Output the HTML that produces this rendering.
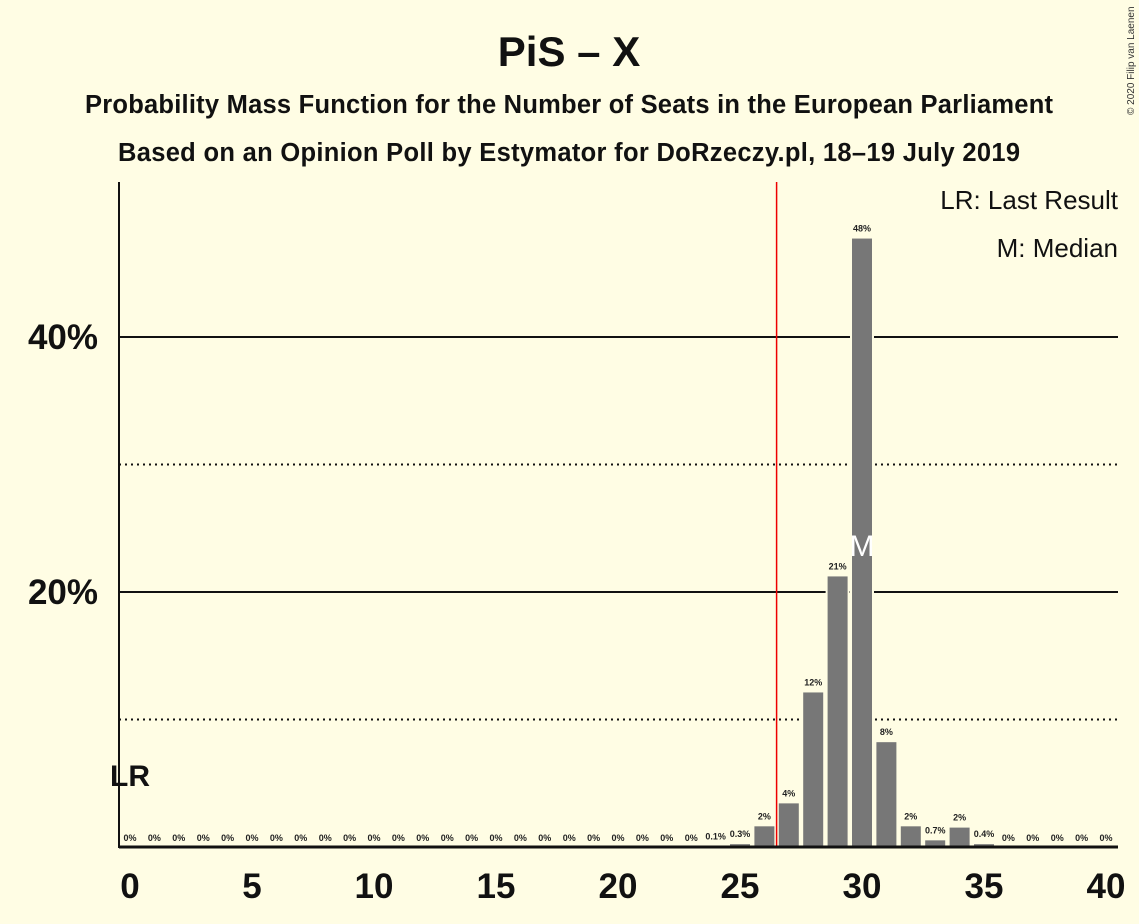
<!DOCTYPE html>
<html><head><meta charset="utf-8"><style>
body{margin:0;background:#fffde4;}
svg{display:block;font-family:"Liberation Sans",sans-serif;}
</style></head><body>
<svg id="chart" width="1139" height="924">
<rect width="1139" height="924" fill="#fffde4"/>
<text x="569" y="66" text-anchor="middle" font-size="42" font-weight="bold" fill="#111">PiS – X</text>
<text x="569" y="113" text-anchor="middle" font-size="25.5" font-weight="bold" fill="#111" textLength="968">Probability Mass Function for the Number of Seats in the European Parliament</text>
<text x="569" y="161" text-anchor="middle" font-size="25.5" font-weight="bold" fill="#111" textLength="902">Based on an Opinion Poll by Estymator for DoRzeczy.pl, 18–19 July 2019</text>
<text x="1134" y="115" font-size="10" fill="#333" transform="rotate(-90 1134 115)">© 2020 Filip van Laenen</text>
<text x="1118" y="209" text-anchor="end" font-size="26" fill="#111">LR: Last Result</text>
<text x="1118" y="257" text-anchor="end" font-size="26" fill="#111">M: Median</text>
<g id="grid"></g>
<g id="bars"></g>
<g id="labels"></g>
<line x1="119" y1="182" x2="119" y2="848" stroke="#111" stroke-width="2"/>
<line x1="119" y1="847" x2="1118" y2="847" stroke="#111" stroke-width="3"/>
<g id="ticks"></g>
</svg>
<script>
const seats = [];
for (let i = 0; i <= 40; i++) seats.push(i);
const probs = [0,0,0,0,0,0,0,0,0,0,0,0,0,0,0,0,0,0,0,0,0,0,0,0,0.1,0.3,1.7,3.5,12.2,21.3,47.8,8.3,1.7,0.6,1.6,0.3,0,0,0,0,0];
const probLabels = ["0%","0%","0%","0%","0%","0%","0%","0%","0%","0%","0%","0%","0%","0%","0%","0%","0%","0%","0%","0%","0%","0%","0%","0%","0.1%","0.3%","2%","4%","12%","21%","48%","8%","2%","0.7%","2%","0.4%","0%","0%","0%","0%","0%"];
const xTicks = [0,5,10,15,20,25,30,35,40];
const yTicks = [20,40];
const yMinor = [10,30];
const threshold = 26.5;
const lastResult = 0;
const median = 30;

const NS = "http://www.w3.org/2000/svg";
const X = s => 130 + s * 24.4;
const Y = p => 847 - p * 12.75;
function mk(tag, attrs, parent) {
  const e = document.createElementNS(NS, tag);
  for (const k in attrs) e.setAttribute(k, attrs[k]);
  document.getElementById(parent).appendChild(e);
  return e;
}
yTicks.forEach(t => {
  const l = mk("line", {x1:119, x2:1118, y1:Y(t), y2:Y(t), stroke:"#111", "stroke-width":2}, "grid");
  
  
  const tx = mk("text", {x:98, y:Y(t)+12, "text-anchor":"end", "font-size":35, "font-weight":"bold", fill:"#111"}, "ticks");
  tx.textContent = t + "%";
  
  
});
yMinor.forEach(t => {
  const l = mk("line", {x1:119, x2:1118, y1:Y(t), y2:Y(t), stroke:"#111", "stroke-width":2, "stroke-dasharray":"2,4"}, "grid");
  
  
});
seats.forEach((s, i) => {
  const p = probs[i];
  if (p > 0) {
    const r = mk("rect", {x:X(s)-11, y:Y(p), width:22, height:847-Y(p), fill:"#777", stroke:"#fffde4", "stroke-width":2}, "bars");
    
    
  }
  const t = mk("text", {x:X(s), y:Y(p)-6, "text-anchor":"middle", "font-size":9, "font-weight":"bold", fill:"#222"}, "labels");
  t.textContent = probLabels[i];
  
  
});
const th = mk("line", {x1:X(threshold), x2:X(threshold), y1:182, y2:847, stroke:"#e00", "stroke-width":1.5}, "labels");


const lr = mk("text", {x:X(lastResult), y:786, "text-anchor":"middle", "font-size":30, "font-weight":"bold", fill:"#111"}, "labels");
lr.textContent = "LR";


const mm = mk("text", {x:X(median), y:556, "text-anchor":"middle", "font-size":30, fill:"#fff"}, "labels");
mm.textContent = "M";


xTicks.forEach(t => {
  const tx = mk("text", {x:X(t), y:898, "text-anchor":"middle", "font-size":35, "font-weight":"bold", fill:"#111"}, "ticks");
  tx.textContent = t;
  
  
});
</script>
</body></html>
